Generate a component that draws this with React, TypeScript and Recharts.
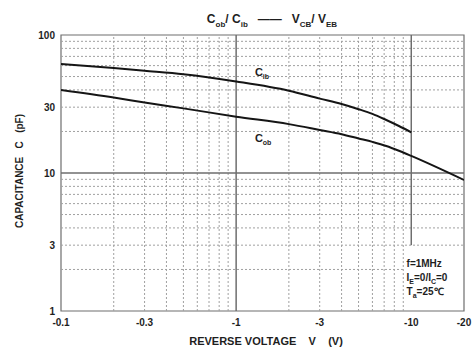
import React from 'react';
import {
  LineChart,
  Line,
  XAxis,
  YAxis,
  ReferenceLine,
  ReferenceArea,
  ReferenceDot,
  Customized,
} from 'recharts';

// Reverse voltage magnitudes |V| (V); displayed with a minus sign
const voltage = [0.1, 0.2, 0.3, 0.5, 1, 2, 3, 4, 5, 6, 7.2, 8.5, 10, 20];
const cibValues = [61.6, 57.6, 55.1, 52, 46.1, 39.5, 34.6, 31.6, 29.0, 26.8, 24.2, 21.9, 19.7, null];
const cobValues = [39.9, 35.2, 32.4, 29.4, 25.6, 22.6, 20.5, 19.1, 17.8, 16.8, 15.7, 14.5, 13.3, 8.9];

const xTicks = [0.1, 0.3, 1, 3, 10, 20];
const xTickLabels = ['-0.1', '-0.3', '-1', '-3', '-10', '-20'];
const yTicks = [1, 3, 10, 30, 100];
const yTickLabels = ['1', '3', '10', '30', '100'];

const xMinorGrid = [0.2, 0.3, 0.4, 0.5, 0.6, 0.7, 0.8, 0.9, 2, 3, 4, 5, 6, 7, 8, 9];
const yMinorGrid = [3, 4, 5, 6, 7, 8, 9, 20, 30, 40, 50, 60, 70, 80, 90];

const data = voltage.map((v, i) => ({ v, cib: cibValues[i], cob: cobValues[i] }));

const FONT = 'Liberation Sans, Arial, sans-serif';
const TXT = '#1e1e1e';
const GRID = '#a0a0a0';
const MAJOR = '#6e6e6e';

const Title = () => (
  <g fontFamily={FONT} fontWeight="bold" fill={TXT}>
    <text x={272} y={23} textAnchor="middle" fontSize={12} style={{ whiteSpace: 'pre' }}>
      C<tspan dy={4} fontSize={8}>ob</tspan>
      <tspan dy={-4}>/ C</tspan>
      <tspan dy={4} fontSize={8}>ib</tspan>
      <tspan dy={-4}>{'   ——   V'}</tspan>
      <tspan dy={4} fontSize={8}>CB</tspan>
      <tspan dy={-4}>/ V</tspan>
      <tspan dy={4} fontSize={8}>EB</tspan>
    </text>
    <text x={266} y={345} textAnchor="middle" fontSize={11} style={{ whiteSpace: 'pre' }}>
      {'REVERSE VOLTAGE    V    (V)'}
    </text>
    <text
      x={23}
      y={171}
      textAnchor="middle"
      fontSize={10}
      transform="rotate(-90 23 171)"
      style={{ whiteSpace: 'pre' }}
    >
      {'CAPACITANCE   C   (pF)'}
    </text>
  </g>
);

const curveLabel = (main: string, sub: string) => (props: any) => {
  const vb = props.viewBox || {};
  return (
    <text x={vb.x} y={vb.y} fontFamily={FONT} fontWeight="bold" fontSize={11} fill={TXT}>
      {main}
      <tspan dy={3} fontSize={7}>{sub}</tspan>
    </text>
  );
};

const noteLabel = (props: any) => {
  const vb = props.viewBox || {};
  const x = vb.x;
  const y = vb.y;
  return (
    <g fontFamily={FONT} fontWeight="bold" fontSize={10} fill={TXT}>
      <text x={x} y={y}>f=1MHz</text>
      <text x={x} y={y + 14}>
        I<tspan dy={3} fontSize={7}>E</tspan>
        <tspan dy={-3}>=0/I</tspan>
        <tspan dy={3} fontSize={7}>C</tspan>
        <tspan dy={-3}>=0</tspan>
      </text>
      <text x={x} y={y + 28}>
        T<tspan dy={3} fontSize={7}>a</tspan>
        <tspan dy={-3}>=25℃</tspan>
      </text>
    </g>
  );
};

export default function App() {
  const tickStyle = { fontSize: 10, fontWeight: 'bold' as const, fill: TXT, fontFamily: FONT };
  return (
    <div style={{ position: 'absolute', left: 0, top: 0, background: '#fff' }}>
      <LineChart
        width={474}
        height={347}
        data={data}
        margin={{ top: 35, right: 10, bottom: 0, left: 0 }}
        style={{ fontFamily: FONT }}
      >
        <XAxis
          dataKey="v"
          type="number"
          scale="log"
          domain={[0.1, 20]}
          ticks={xTicks}
          interval={0}
          allowDataOverflow
          axisLine={false}
          tickLine={false}
          tickSize={6}
          tickMargin={2}
          height={36}
          tick={tickStyle}
          tickFormatter={(v: number) => xTickLabels[xTicks.indexOf(v)] ?? String(v)}
        />
        <YAxis
          type="number"
          scale="log"
          domain={[1, 100]}
          ticks={yTicks}
          interval={0}
          allowDataOverflow
          axisLine={false}
          tickLine={false}
          tickSize={4}
          tickMargin={2}
          width={61}
          tick={tickStyle}
          tickFormatter={(v: number) => yTickLabels[yTicks.indexOf(v)] ?? String(v)}
        />
        {xMinorGrid.map((g) => (
          <ReferenceLine key={'x' + g} x={g} stroke={GRID} strokeWidth={1} strokeDasharray="2 2" />
        ))}
        {yMinorGrid.map((g) => (
          <ReferenceLine key={'y' + g} y={g} stroke={GRID} strokeWidth={1} strokeDasharray="2 2" />
        ))}
        <ReferenceLine
          segment={[{ x: 0.1, y: 2 }, { x: 9.2, y: 2 }]}
          stroke={GRID}
          strokeWidth={1}
          strokeDasharray="2 2"
        />
        <ReferenceLine x={1} stroke={MAJOR} strokeWidth={1.5} />
        <ReferenceLine y={10} stroke={MAJOR} strokeWidth={1.5} />
        <ReferenceLine segment={[{ x: 10, y: 3 }, { x: 10, y: 100 }]} stroke={MAJOR} strokeWidth={1.5} />
        <ReferenceArea x1={0.1} x2={20} y1={1} y2={100} fill="none" stroke={MAJOR} strokeWidth={1.2} />
        <Line
          dataKey="cib"
          type="monotone"
          stroke="#151515"
          strokeWidth={2}
          dot={false}
          isAnimationActive={false}
          connectNulls={false}
        />
        <Line
          dataKey="cob"
          type="monotone"
          stroke="#151515"
          strokeWidth={2}
          dot={false}
          isAnimationActive={false}
        />
        <ReferenceDot x={1.28} y={50.5} r={0.01} fill="none" stroke="none" label={curveLabel('C', 'ib')} />
        <ReferenceDot x={1.28} y={16.8} r={0.01} fill="none" stroke="none" label={curveLabel('C', 'ob')} />
        <ReferenceDot x={9.4} y={2.08} r={0.01} fill="none" stroke="none" label={noteLabel} />
        <Customized component={Title} />
      </LineChart>
    </div>
  );
}
